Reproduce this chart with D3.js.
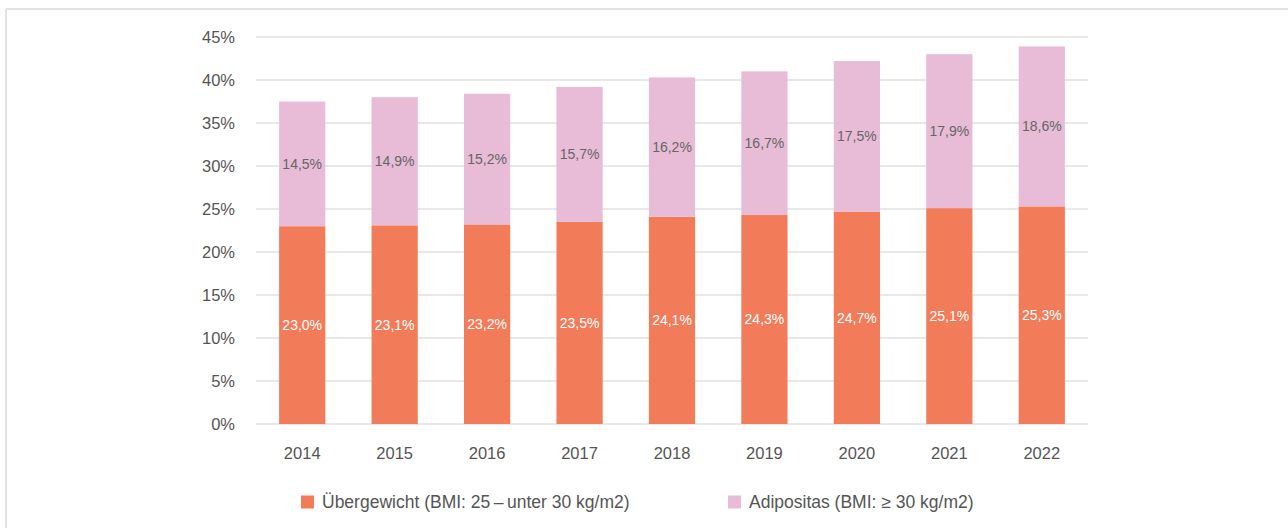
<!DOCTYPE html>
<html>
<head>
<meta charset="utf-8">
<script src="https://cdn.jsdelivr.net/npm/d3@7"></script>
<style>
  body { margin: 0; background: #fff; }
  svg { display: block; font-family: "Liberation Sans", Arial, sans-serif; }
</style>
</head>
<body>
<svg id="chart" width="1288" height="528"></svg>
<script>
// data
const years = ["2014", "2015", "2016", "2017", "2018", "2019", "2020", "2021", "2022"];
const uebergewicht = [23.0, 23.1, 23.2, 23.5, 24.1, 24.3, 24.7, 25.1, 25.3];
const adipositas = [14.5, 14.9, 15.2, 15.7, 16.2, 16.7, 17.5, 17.9, 18.6];
const yTicks = [0, 5, 10, 15, 20, 25, 30, 35, 40, 45];
const seriesNames = ["Übergewicht (BMI: 25\u2009\u2013\u2009unter 30 kg/m2)", "Adipositas (BMI: \u2265 30 kg/m2)"];
const seriesColors = ["#f27c5a", "#e8bbd7"];

const svg = d3.select("#chart");

// light frame top + left
svg.append("line").attr("x1", 6).attr("x2", 1288).attr("y1", 9).attr("y2", 9)
    .attr("stroke", "#e3e3e3").attr("stroke-width", 2);
svg.append("line").attr("x1", 6).attr("x2", 6).attr("y1", 9).attr("y2", 528)
    .attr("stroke", "#e3e3e3").attr("stroke-width", 2);

const x = d3.scaleBand().domain(years).range([256, 1088]).paddingInner(0.5).paddingOuter(0.25);
const y = d3.scaleLinear().domain([0, 45]).range([424, 37]);

// gridlines
svg.append("g").selectAll("line")
    .data(yTicks)
    .join("line")
    .attr("x1", 256).attr("x2", 1088)
    .attr("y1", d => y(d)).attr("y2", d => y(d))
    .attr("stroke", "#e0e0e0").attr("stroke-width", 1.5);

// y labels
svg.append("g").selectAll("text")
    .data(yTicks)
    .join("text")
    .attr("x", 235).attr("y", d => y(d))
    .attr("dy", "0.35em")
    .attr("text-anchor", "end")
    .attr("font-size", 16.5).attr("fill", "#555")
    .text(d => d + "%");

// x labels
svg.append("g").selectAll("text")
    .data(years)
    .join("text")
    .attr("x", d => x(d) + x.bandwidth() / 2).attr("y", 453)
    .attr("dy", "0.35em")
    .attr("text-anchor", "middle")
    .attr("font-size", 16.5).attr("fill", "#555")
    .text(d => d);

const rows = years.map((yr, i) => ({ year: yr, a: uebergewicht[i], b: adipositas[i] }));
const fmt = v => v.toFixed(1).replace(".", ",") + "%";

const g = svg.append("g");
// orange (bottom)
g.selectAll("rect.ub")
    .data(rows)
    .join("rect").attr("class", "ub")
    .attr("x", d => x(d.year)).attr("width", x.bandwidth())
    .attr("y", d => y(d.a)).attr("height", d => y(0) - y(d.a))
    .attr("fill", seriesColors[0]);
// pink (top)
g.selectAll("rect.ad")
    .data(rows)
    .join("rect").attr("class", "ad")
    .attr("x", d => x(d.year)).attr("width", x.bandwidth())
    .attr("y", d => y(d.a + d.b)).attr("height", d => y(d.a) - y(d.a + d.b))
    .attr("fill", seriesColors[1]);

// value labels
g.selectAll("text.lu")
    .data(rows)
    .join("text").attr("class", "lu")
    .attr("x", d => x(d.year) + x.bandwidth() / 2)
    .attr("y", d => y(d.a / 2))
    .attr("dy", "0.35em").attr("text-anchor", "middle")
    .attr("font-size", 14).attr("fill", "#fff")
    .text(d => fmt(d.a));
g.selectAll("text.la")
    .data(rows)
    .join("text").attr("class", "la")
    .attr("x", d => x(d.year) + x.bandwidth() / 2)
    .attr("y", d => y(d.a + d.b / 2))
    .attr("dy", "0.35em").attr("text-anchor", "middle")
    .attr("font-size", 14).attr("fill", "#666")
    .text(d => fmt(d.b));

// legend
const legendX = [301, 728];
const leg = svg.append("g").selectAll("g")
    .data(seriesNames)
    .join("g")
    .attr("transform", (d, i) => `translate(${legendX[i]},495.5)`);
leg.append("rect").attr("width", 13).attr("height", 13)
    .attr("fill", (d, i) => seriesColors[i]);
leg.append("text").attr("x", 21).attr("y", 6.5).attr("dy", "0.35em")
    .attr("font-size", 17.5).attr("fill", "#555")
    .text(d => d);
</script>
</body>
</html>
